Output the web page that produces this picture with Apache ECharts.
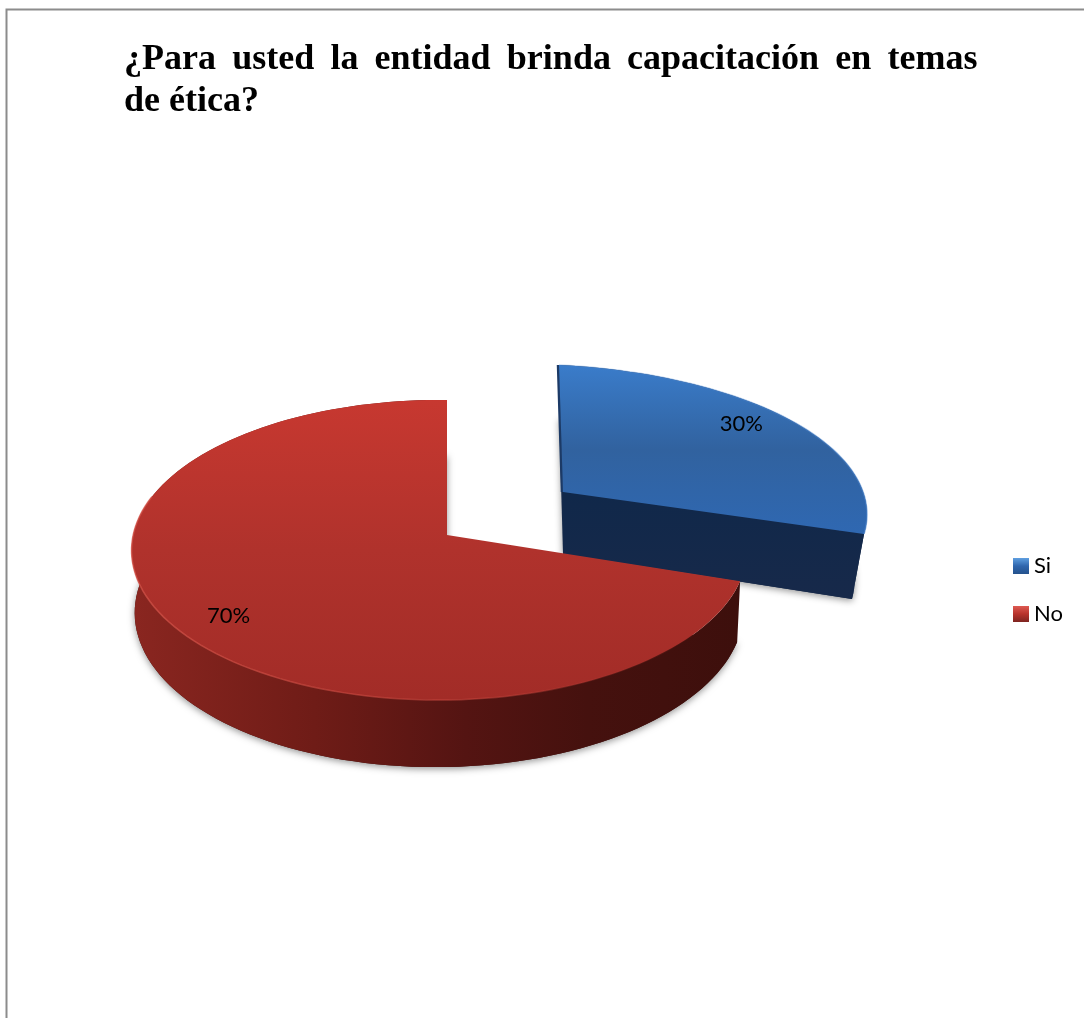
<!DOCTYPE html>
<html>
<head>
<meta charset="utf-8">
<title>Capacitación en ética</title>
<style>
  html, body { margin: 0; padding: 0; background: #fff; }
  #chart { width: 1084px; height: 1018px; }
</style>
<script src="https://cdn.jsdelivr.net/npm/echarts@6/dist/echarts.min.js"></script>
</head>
<body>
<div id="chart"></div>
<script>
// Survey answers
const categories = ['Si', 'No'];
const shares = [30, 70];
// Thin spaces widen the word gaps so the first line fills the column.
const titleLines = [
  ['¿Para', 'usted', 'la', 'entidad', 'brinda', 'capacitación', 'en', 'temas'].join(' \u2009'),
  'de ética?'
];

// Perspective of each slice: where its tip lands, and how the disc is foreshortened.
const views = {
  Si: {
    ax: 563, ay: 492, bx: 340, by: 146.7, p: 0.155, q: 0.133, shear: -4,
    depth: 62, depthPow: 0, baseX: 0.96, baseY: 1.07,
    labelR: 0.82, labelTurn: -5,
    top: ['#3a7cca', '#31629f', '#2f68b2'],
    wall: '#14294a',
    bevel: [[0, 'rgba(70,130,205,0.3)'], [1, 'rgba(70,130,205,0.6)']], bevelEnd: 108
  },
  No: {
    ax: 447, ay: 535, bx: 306, by: 148.5, p: 0.1, q: 0.025, shear: 0,
    depth: 60.3, depthPow: 1, baseX: 0.99, baseY: 1,
    labelR: 0.836, labelTurn: -1.2,
    top: ['#c73830', '#b0322c', '#a22c27'],
    wall: null,
    bevel: [[0, 'rgba(214,84,74,0.75)'], [0.6, 'rgba(200,70,62,0.5)'], [1, 'rgba(150,40,34,0)']], bevelEnd: 285
  }
};

const total = shares.reduce((a, b) => a + b, 0);

function startAngle(index) {
  let sum = 0;
  for (let i = 0; i < index; i++) sum += shares[i];
  return sum / total * 360;
}

function project(v, rad, deg) {
  const t = deg * Math.PI / 180;
  const X = rad * Math.sin(t);
  const Y = rad * Math.cos(t);
  const D = 1 + v.p * Y + v.q * X;
  return {
    x: v.ax + v.bx * X / D + v.shear * Y,
    y: v.ay - v.by * Y / D,
    D: D
  };
}

function lower(v, pt) {
  return [
    v.ax + (pt.x - v.ax) * v.baseX,
    v.ay + (pt.y - v.ay) * v.baseY + v.depth / Math.pow(pt.D, v.depthPow)
  ];
}

function sweep(from, to) {
  const out = [];
  const steps = Math.max(2, Math.round(Math.abs(to - from) / 2));
  for (let i = 0; i <= steps; i++) out.push(from + (to - from) * i / steps);
  return out;
}

function vGrad(stops) {
  return new echarts.graphic.LinearGradient(0, 0, 0, 1,
    stops.map((c, i) => ({ offset: i / (stops.length - 1), color: c })));
}

function hGrad(stops) {
  return new echarts.graphic.LinearGradient(0, 0, 1, 0,
    stops.map((s) => ({ offset: s[0], color: s[1] })));
}

function renderSlice(params, api) {
  const name = categories[params.seriesIndex];
  const v = views[name];
  const a0 = startAngle(params.seriesIndex);
  const a1 = a0 + api.value(0) / total * 360;
  const tip = project(v, 0, 0);
  const rim = sweep(a0, a1).map((d) => project(v, 1, d));

  const topPts = [[tip.x, tip.y]].concat(rim.map((p) => [p.x, p.y]));
  const basePts = [lower(v, tip)].concat(rim.map((p) => lower(v, p)));
  const wallPts = rim.map((p) => [p.x, p.y])
    .concat(rim.map((p) => lower(v, p)).reverse());

  const children = [];
  // soft shadow cast by the underside of the disc
  children.push({
    type: 'polygon',
    shape: { points: basePts },
    style: {
      fill: v.wall || '#3f100c',
      shadowBlur: 7, shadowColor: 'rgba(0,0,0,0.42)', shadowOffsetX: 0, shadowOffsetY: 2
    }
  });
  // outer wall of the disc
  children.push({
    type: 'polygon',
    shape: { points: wallPts },
    style: {
      fill: v.wall || hGrad([[0, '#8a2620'], [0.3, '#6f1c17'], [0.55, '#541412'], [0.75, '#45110e'], [1, '#3d0f0c']])
    }
  });
  // cut face turned towards the viewer
  if (v.wall) {
    const end = project(v, 1, a1);
    children.push({
      type: 'polygon',
      shape: { points: [[tip.x, tip.y], [end.x, end.y], lower(v, end), lower(v, tip)] },
      style: { fill: vGrad(['#10284a', '#17294a']) }
    });
    const start = project(v, 1, a0);
    children.push({
      type: 'line',
      shape: { x1: tip.x - 1, y1: tip.y, x2: start.x - 1, y2: start.y },
      style: { stroke: '#1c3a66', lineWidth: 2.5 }
    });
  }
  // flat upper face
  children.push({
    type: 'polygon',
    shape: { points: topPts },
    style: { fill: vGrad(v.top) }
  });
  // bevel along the front of the rim
  children.push({
    type: 'polyline',
    shape: { points: sweep(a0, Math.min(a1, v.bevelEnd)).map((d) => {
      const p = project(v, 1, d);
      return [p.x, p.y];
    }) },
    style: { fill: null, stroke: hGrad(v.bevel), lineWidth: 1.5 }
  });
  // percentage label
  const lp = project(v, v.labelR, (a0 + a1) / 2 + v.labelTurn);
  children.push({
    type: 'text',
    style: {
      text: Math.round(api.value(0) / total * 100) + '%',
      x: lp.x, y: lp.y, align: 'center', verticalAlign: 'middle',
      fontFamily: 'Lato', fontSize: 22, fill: '#000'
    }
  });
  return { type: 'group', children: children };
}

const chart = echarts.init(document.getElementById('chart'), null, { renderer: 'canvas' });
chart.setOption({
  animation: false,
  backgroundColor: '#fff',
  title: {
    text: titleLines.join('\n'),
    left: 119, top: 34,
    textStyle: {
      fontFamily: 'Liberation Serif', fontWeight: 'bold', fontSize: 36,
      lineHeight: 42, color: '#000'
    }
  },
  legend: {
    orient: 'vertical', left: 1008, top: 550,
    itemWidth: 16, itemHeight: 16, itemGap: 26, icon: 'rect',
    textStyle: { fontFamily: 'Lato', fontSize: 22, color: '#000' },
    itemStyle: { borderWidth: 0 },
    data: [
      { name: 'Si', itemStyle: { color: vGrad(['#5f9fe0', '#2f66ae', '#24528c']) } },
      { name: 'No', itemStyle: { color: vGrad(['#de5a52', '#b8332c', '#7e2420']) } }
    ]
  },
  graphic: [{
    type: 'polyline',
    silent: true,
    shape: { points: [[6.5, 1018], [6.5, 9.5], [1084, 9.5]] },
    style: { fill: null, stroke: '#8c8c8c', lineWidth: 2 }
  }],
  series: categories.map((name, i) => ({
    type: 'custom',
    name: name,
    coordinateSystem: 'none',
    renderItem: renderSlice,
    data: [[shares[i]]],
    silent: true
  }))
});
</script>
</body>
</html>
